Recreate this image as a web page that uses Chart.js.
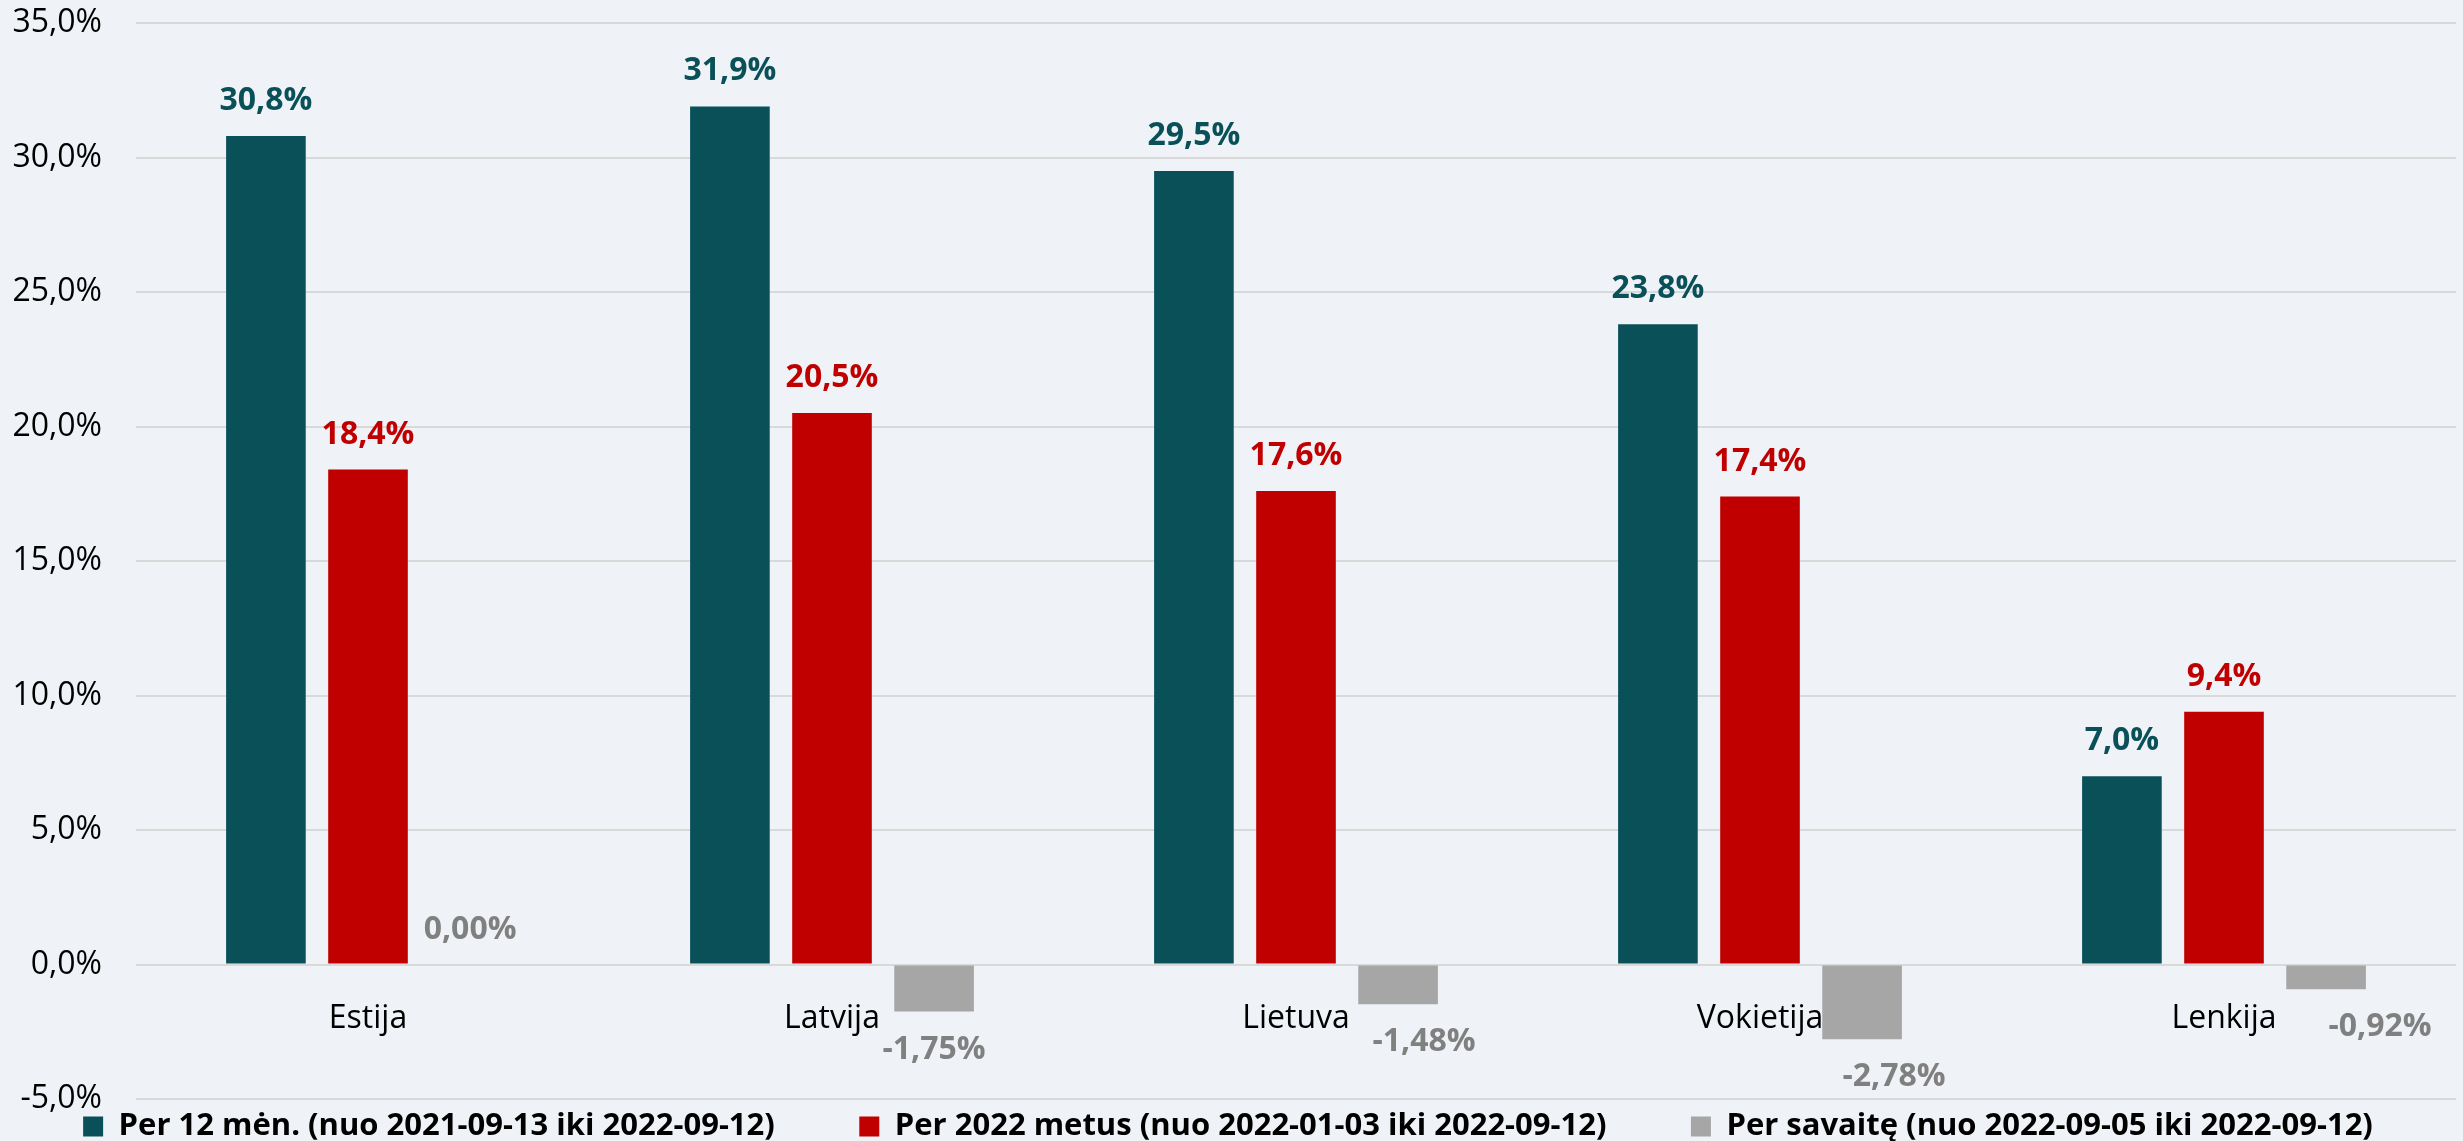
<!DOCTYPE html>
<html>
<head>
<meta charset="utf-8">
<script src="https://cdn.jsdelivr.net/npm/chart.js@4/dist/chart.umd.min.js"></script>
<style>
  html, body { margin: 0; padding: 0; background: #EFF3F7; }
  #wrap { width: 2463px; height: 1141px; }
</style>
</head>
<body>
<div id="wrap"><canvas id="priceChart" width="2463" height="1141"></canvas></div>
<script>
const countries = ['Estija', 'Latvija', 'Lietuva', 'Vokietija', 'Lenkija'];
const year12 = [30.8, 31.9, 29.5, 23.8, 7.0];
const ytd2022 = [18.4, 20.5, 17.6, 17.4, 9.4];
const week = [0.00, -1.75, -1.48, -2.78, -0.92];
const seriesNames = [
    'Per 12 mėn. (nuo 2021-09-13 iki 2022-09-12)',
    'Per 2022 metus (nuo 2022-01-03 iki 2022-09-12)',
    'Per savaitę (nuo 2022-09-05 iki 2022-09-12)'
];

const fmt = (v, d) => v.toFixed(d).replace('.', ',') + '%';

// the weekly labels were nudged sideways by hand in the original
const weekLabelShift = [0, 0, 26, 32, 54];

// value labels above / below the bars
const valueLabels = {
    id: 'valueLabels',
    afterDatasetsDraw(chart) {
        const ctx = chart.ctx;
        ctx.save();
        ctx.textAlign = 'center';
        ctx.textBaseline = 'middle';
        ctx.font = 'bold 32px "Open Sans"';
        chart.data.datasets.forEach((ds, di) => {
            const meta = chart.getDatasetMeta(di);
            meta.data.forEach((bar, i) => {
                const v = ds.data[i];
                const decimals = di === 2 ? 2 : 1;
                const dx = di === 2 ? weekLabelShift[i] : 0;
                ctx.fillStyle = ds.labelColor;
                const y = v < 0 ? bar.y + 38 : bar.y - 35;
                ctx.fillText(fmt(v, decimals), bar.x + dx, y);
            });
        });
        ctx.restore();
    }
};

const data = {
    labels: countries,
    datasets: [
        { label: seriesNames[0], data: year12, backgroundColor: '#0A5058', labelColor: '#0A5058' },
        { label: seriesNames[1], data: ytd2022, backgroundColor: '#C00000', labelColor: '#C00000' },
        { label: seriesNames[2], data: week, backgroundColor: '#A6A6A6', labelColor: '#808080' }
    ]
};

const config = {
    type: 'bar',
    data: data,
    options: {
        responsive: false,
        animation: false,
        barPercentage: 0.78,
        categoryPercentage: 0.66,
        layout: { padding: { top: 23, right: 7, left: 0, bottom: -11 } },
        plugins: {
            legend: {
                position: 'bottom',
                labels: {
                    boxWidth: 20,
                    boxHeight: 20,
                    padding: 12,
                    color: '#000000',
                    font: { family: 'Open Sans', size: 31, weight: 'bold' },
                    // extra room between the entries, like the original
                    generateLabels: (chart) => {
                        const items = Chart.defaults.plugins.legend.labels.generateLabels(chart);
                        items.forEach((it, k) => {
                            if (k < items.length - 1) it.text = it.text + '\u00A0'.repeat(9);
                        });
                        return items;
                    }
                }
            },
            tooltip: { enabled: false }
        },
        scales: {
            x: {
                position: { y: 0 },
                grid: { display: false, drawTicks: false },
                border: { display: false },
                ticks: {
                    padding: 35,
                    color: '#000000',
                    font: { family: 'Open Sans', size: 32 }
                }
            },
            y: {
                min: -5,
                max: 35,
                grid: { color: '#D9D9D9', lineWidth: 2, drawTicks: false },
                border: { display: false },
                afterFit: (scale) => {
                    scale.width = 136;
                    scale.paddingTop = 0;
                    scale.paddingBottom = 0;
                },
                ticks: {
                    stepSize: 5,
                    padding: 34,
                    color: '#000000',
                    font: { family: 'Open Sans', size: 32 },
                    callback: (v) => fmt(v, 1)
                }
            }
        }
    },
    plugins: [valueLabels]
};

const myChart = new Chart(document.getElementById('priceChart'), config);
</script>
</body>
</html>
